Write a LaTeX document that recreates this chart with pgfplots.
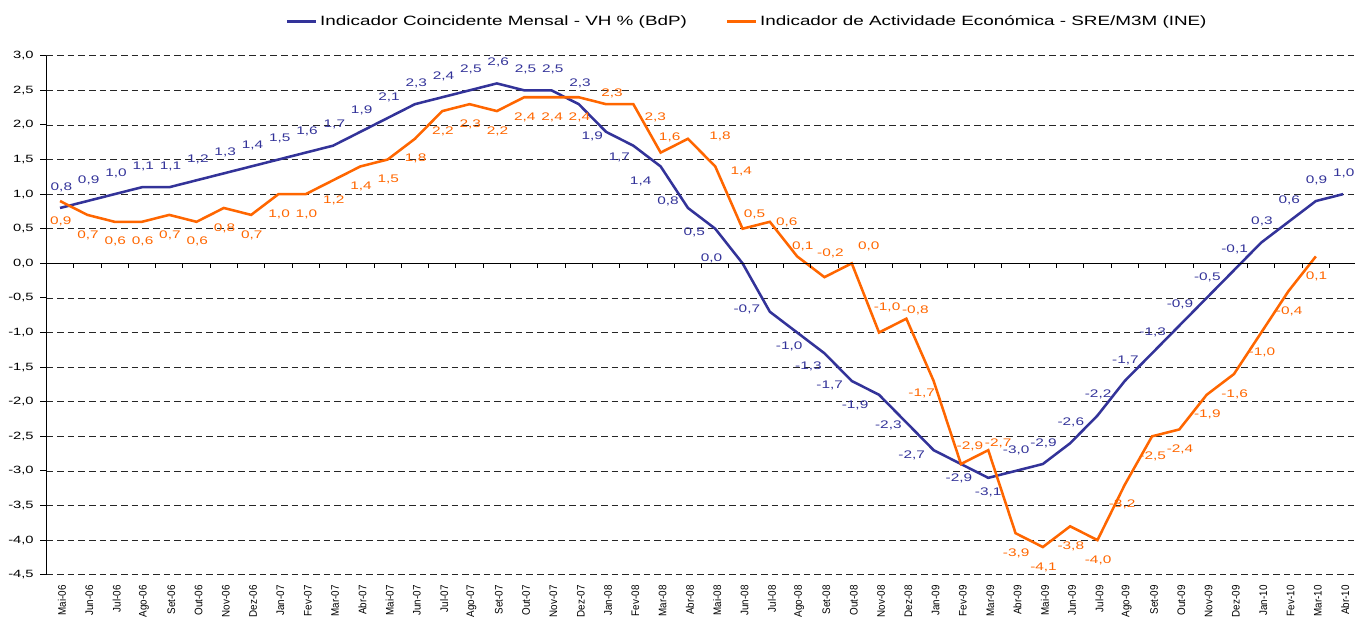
\documentclass[border=0pt]{standalone}
\usepackage{fontspec}
\setmainfont{Liberation Sans}[FakeStretch=1.4]
\newfontfamily\xlabfont{Liberation Sans}[FakeStretch=0.9]
\usepackage{pgfplots}
\usepackage{pgfplotstable}
\pgfplotsset{compat=1.18}
\definecolor{bdpblue}{HTML}{333399}
\definecolor{ineorange}{HTML}{FF6600}

% x = month index (0 = Mai-06), v = value, dx/dy = label shift in pt
\pgfplotstableread{
x v dx dy
0 0.8 1 15.75
1 0.9 1 15.75
2 1.0 1 15.75
3 1.1 1 15.75
4 1.1 1 15.75
5 1.2 1 15.75
6 1.3 1 15.75
7 1.4 1 15.75
8 1.5 1 15.75
9 1.6 1 15.75
10 1.7 1 15.75
11 1.9 1 15.75
12 2.1 1 15.75
13 2.3 1 15.75
14 2.4 1 15.75
15 2.5 1 15.75
16 2.6 1 15.75
17 2.5 1 15.75
18 2.5 1 15.75
19 2.3 1 15.75
20 1.9 -10.3 -3.75
21 1.7 -10.5 -9
22 1.4 -15 -11.25
23 0.8 -15 5.25
24 0.5 -15.75 -3
25 0.0 -23.25 3.75
26 -0.7 -17.25 1.5
27 -1.0 -6 -10.5
28 -1.3 -12 -9.75
29 -1.7 -16.5 -3
30 -1.9 -18 -8.25
31 -2.3 -13.5 -2.25
32 -2.7 -16.5 -3.75
33 -2.9 -1.5 -10.5
34 -3.1 0 -11.25
35 -3.0 0.5 15.75
36 -2.9 0.5 15.75
37 -2.6 0.5 15.75
38 -2.2 0.5 15.75
39 -1.7 0.5 15.75
40 -1.3 0.5 15.75
41 -0.9 0.5 15.75
42 -0.5 0.5 15.75
43 -0.1 0.5 15.75
44 0.3 0.5 15.75
45 0.6 0.5 15.75
46 0.9 0.5 15.75
47 1.0 0.5 15.75
}\bdp

\pgfplotstableread{
x v dx dy
0 0.9 0.5 -15
1 0.7 0.5 -15
2 0.6 0.5 -15
3 0.6 0.5 -15
4 0.7 0.5 -15
5 0.6 0.5 -15
6 0.8 0.5 -15
7 0.7 0.5 -15
8 1.0 0.5 -15
9 1.0 0.5 -15
10 1.2 0.5 -15
11 1.4 0.5 -15
12 1.5 0.5 -15
13 1.8 0.5 -15
14 2.2 0.5 -15
15 2.3 0.5 -15
16 2.2 0.5 -15
17 2.4 0.5 -15
18 2.4 0.5 -15
19 2.4 0.5 -15
20 2.3 4.5 8.25
21 2.3 16.5 -9.75
22 1.6 6.75 11.25
23 1.8 24 1.5
24 1.4 19.5 -3.75
25 0.5 9 10.5
26 0.6 12.75 -0.75
27 0.1 4.2 7.5
28 -0.2 4.5 18
29 0.0 12.75 12.75
30 -1.0 6 18.75
31 -0.8 6.75 6
32 -1.7 -9 -9
33 -2.9 6.75 13.5
34 -2.7 7.5 5.25
35 -3.9 0.5 -15
36 -4.1 0.5 -15
37 -3.8 0.5 -15
38 -4.0 0.5 -15
39 -3.2 -2 -15
40 -2.5 0.5 -15
41 -2.4 0.5 -15
42 -1.9 0.5 -15
43 -1.6 0.5 -15
44 -1.0 0.5 -15
45 -0.4 0.5 -15
46 0.1 0.5 -15
}\ine

\begin{document}
\begin{tikzpicture}
\begin{axis}[
  at={(34.8pt,36.2pt)}, anchor=south west,
  scale only axis, width=982.8pt, height=389.25pt,
  xmin=-0.5, xmax=47.5, ymin=-4.5, ymax=3.0,
  clip=false,
  axis x line*=bottom, axis y line*=left,
  x axis line style={draw=none},
  y axis line style={black, line width=0.75pt},
  xtick={0,...,47},
  xticklabels={Mai-06,Jun-06,Jul-06,Ago-06,Set-06,Out-06,Nov-06,Dez-06,
    Jan-07,Fev-07,Mar-07,Abr-07,Mai-07,Jun-07,Jul-07,Ago-07,Set-07,Out-07,Nov-07,Dez-07,
    Jan-08,Fev-08,Mar-08,Abr-08,Mai-08,Jun-08,Jul-08,Ago-08,Set-08,Out-08,Nov-08,Dez-08,
    Jan-09,Fev-09,Mar-09,Abr-09,Mai-09,Jun-09,Jul-09,Ago-09,Set-09,Out-09,Nov-09,Dez-09,
    Jan-10,Fev-10,Mar-10,Abr-10},
  xtick style={draw=none},
  xticklabel style={rotate=90, anchor=east, font=\xlabfont\fontsize{8.2}{9}\selectfont, yshift=-1.5pt},
  ytick={-4.5,-4,...,3},
  ytick style={black, line width=0.75pt},
  tick align=outside, major tick length=4.5pt,
  yticklabel style={font=\fontsize{7.9}{9}\selectfont, xshift=-1.5pt},
  /pgf/number format/.cd, use comma, fixed, fixed zerofill, precision=1, assume math mode=true,
  /pgfplots/.cd,
  ymajorgrids,
  major grid style={black!85, line width=0.6pt, dash pattern=on 5pt off 3pt},
  legend columns=2,
  legend cell align=left,
  legend style={draw=none, fill=none, at={(axis description cs:0.535,1.066)}, anchor=center,
    font=\fontsize{10.1}{11}\selectfont,
    /tikz/every even column/.append style={column sep=27pt}},
  legend image code/.code={\draw[#1] (0pt,0pt) -- (22pt,0pt);},
  every axis plot/.append style={line width=1.9pt, mark=none},
  visualization depends on={\thisrow{dx} \as \dx},
  visualization depends on={\thisrow{dy} \as \dy},
  nodes near coords,
  point meta=y,
  every node near coord/.append style={anchor=center, inner sep=0pt,
    font=\fontsize{8.25}{10}\selectfont, xshift=\dx*1pt, yshift=\dy*1pt},
]
\addplot[bdpblue, every node near coord/.append style={text=bdpblue}] table[x=x, y=v] {\bdp};
\addlegendentry{Indicador Coincidente Mensal - VH \% (BdP)}
\addplot[ineorange, every node near coord/.append style={text=ineorange}] table[x=x, y=v] {\ine};
\addlegendentry{Indicador de Actividade Económica - SRE/M3M (INE)}
\draw[black, line width=0.75pt] (axis cs:-0.5,0) -- (axis cs:47.5,0);
\pgfplotsinvokeforeach{-0.5,0.5,...,47.5}{\draw[black, line width=0.75pt] (axis cs:#1,0) -- ++(0pt,-3.75pt);}
\end{axis}
\pgfresetboundingbox
\path[use as bounding box] (0,0) rectangle (1016.25pt,467.25pt);
\end{tikzpicture}
\end{document}
